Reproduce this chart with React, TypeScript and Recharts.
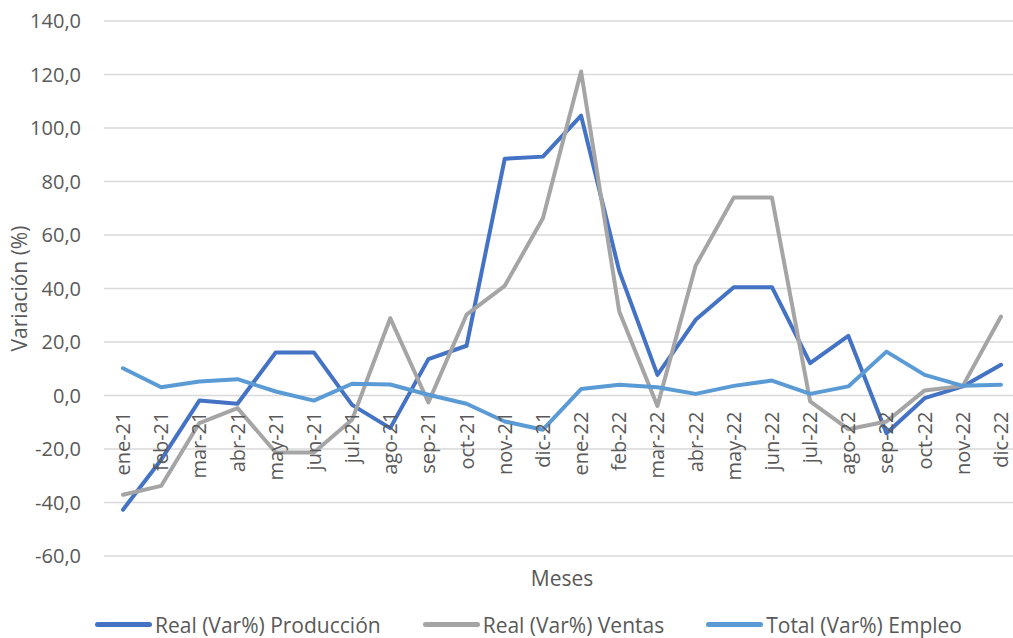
import React from 'react';
import { CartesianGrid, Legend, Line, LineChart, XAxis, YAxis } from 'recharts';

const months = [
  'ene-21', 'feb-21', 'mar-21', 'abr-21', 'may-21', 'jun-21',
  'jul-21', 'ago-21', 'sep-21', 'oct-21', 'nov-21', 'dic-21',
  'ene-22', 'feb-22', 'mar-22', 'abr-22', 'may-22', 'jun-22',
  'jul-22', 'ago-22', 'sep-22', 'oct-22', 'nov-22', 'dic-22'
];

const produccion = [
  -42.7, -24.0, -1.9, -3.1, 16.1, 16.1, -3.5, -12.2, 13.6, 18.6, 88.5, 89.3,
  104.6, 46.5, 7.7, 28.3, 40.5, 40.5, 12.1, 22.3, -14.1, -1.0, 3.4, 11.5
];

const ventas = [
  -37.1, -33.8, -10.3, -4.7, -21.3, -21.3, -9.1, 28.9, -2.6, 30.2, 41.0, 66.3,
  121.1, 31.4, -3.9, 48.5, 74.0, 74.0, -2.2, -12.6, -9.7, 1.9, 3.6, 29.5
];

const empleo = [
  10.2, 3.1, 5.2, 6.1, 1.5, -1.9, 4.4, 4.1, 0.3, -3.1, -9.7, -12.8,
  2.4, 4.0, 3.1, 0.6, 3.6, 5.6, 0.6, 3.4, 16.4, 7.7, 3.6, 4.0
];

const yTicks = [-60, -40, -20, 0, 20, 40, 60, 80, 100, 120, 140];

const series = [
  { key: 'produccion', name: 'Real (Var%) Producción', color: '#4472C4' },
  { key: 'ventas', name: 'Real (Var%) Ventas', color: '#A5A5A5' },
  { key: 'empleo', name: 'Total (Var%) Empleo', color: '#5B9BD5' }
];

const data = months.map((mes, i) => ({
  mes,
  produccion: produccion[i],
  ventas: ventas[i],
  empleo: empleo[i]
}));

const FONT = '"Open Sans", Lato, sans-serif';
const TEXT = '#595959';
const Y_MIN = -60;
const Y_MAX = 140;
const PLOT_TOP = 21;
const PLOT_BOTTOM = 556;
// month labels sit on the zero line, like Excel does
const ZERO_SHIFT = ((PLOT_BOTTOM - PLOT_TOP) * (0 - Y_MIN)) / (Y_MAX - Y_MIN);

const fmt = (v: number) => v.toFixed(1).replace('.', ',');

function MonthTick(props: any) {
  const { x, y, payload } = props;
  const ty = y - ZERO_SHIFT + 16;
  return (
    <text
      x={x}
      y={ty}
      transform={`rotate(-90, ${x}, ${ty})`}
      textAnchor="end"
      dy="0.35em"
      fill={TEXT}
      fontSize={20}
      fontFamily={FONT}
    >
      {payload.value}
    </text>
  );
}

function LegendContent() {
  return (
    <div
      style={{
        height: 48,
        paddingTop: 21,
        boxSizing: 'border-box',
        display: 'flex',
        alignItems: 'center',
        paddingLeft: 95,
        fontFamily: FONT,
        fontSize: 21,
        lineHeight: '22px',
        color: TEXT,
        whiteSpace: 'nowrap'
      }}
    >
      {series.map((s) => (
        <div key={s.key} style={{ display: 'flex', alignItems: 'center', marginRight: 42 }}>
          <span
            style={{
              display: 'inline-block',
              width: 57,
              height: 5,
              borderRadius: 3,
              background: s.color,
              marginRight: 3
            }}
          />
          <span>{s.name}</span>
        </div>
      ))}
    </div>
  );
}

export default function App() {
  return (
    <div
      style={{
        position: 'fixed',
        top: 0,
        left: 0,
        width: 1013,
        height: 638,
        overflow: 'hidden',
        background: '#fff'
      }}
    >
      <LineChart
        width={1021}
        height={638}
        data={data}
        margin={{ top: PLOT_TOP, right: 1, left: 0, bottom: 0 }}
      >
        <CartesianGrid vertical={false} stroke="#D9D9D9" strokeWidth={1.5} />
        <XAxis
          dataKey="mes"
          height={34}
          padding={{ left: 19, right: 19 }}
          axisLine={false}
          tickLine={false}
          tickSize={0}
          tickMargin={0}
          interval={0}
          tick={<MonthTick />}
          label={{
            value: 'Meses',
            position: 'insideBottom',
            offset: 4,
            style: { fill: TEXT, fontSize: 21, fontFamily: FONT }
          }}
        />
        <YAxis
          width={104}
          domain={[Y_MIN, Y_MAX]}
          ticks={yTicks}
          tickFormatter={fmt}
          axisLine={false}
          tickLine={false}
          tickSize={0}
          tickMargin={23}
          tick={{ fill: TEXT, fontSize: 20, fontFamily: FONT }}
          label={{
            value: 'Variación (%)',
            angle: -90,
            position: 'insideLeft',
            offset: 20,
            style: { fill: TEXT, fontSize: 21, fontFamily: FONT, textAnchor: 'middle' }
          }}
        />
        <Legend verticalAlign="bottom" content={<LegendContent />} />
        {series.map((s) => (
          <Line
            key={s.key}
            type="linear"
            dataKey={s.key}
            name={s.name}
            stroke={s.color}
            strokeWidth={4}
            strokeLinecap="round"
            strokeLinejoin="round"
            dot={false}
            activeDot={false}
            isAnimationActive={false}
          />
        ))}
      </LineChart>
    </div>
  );
}
